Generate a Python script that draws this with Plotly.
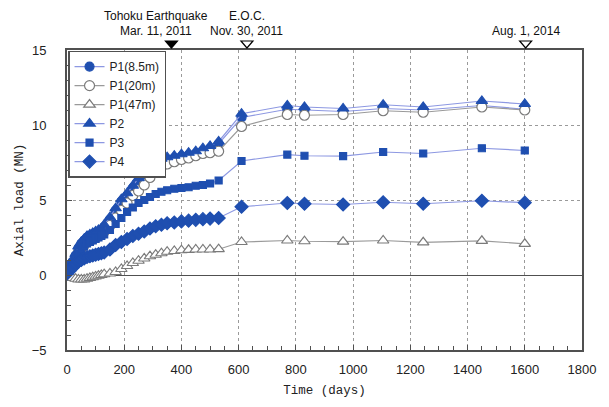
import plotly.graph_objects as go

# Elapsed time (days) of each reading
days = [0, 10, 20, 30, 40, 50, 60, 70, 80, 90, 100, 110, 120, 130, 150, 170, 190, 210,
        230, 250, 270, 290, 310, 330, 350, 375, 400, 425, 450, 475, 500, 530,
        610, 770, 830, 965, 1105, 1245, 1450, 1600]

# Axial load (MN) per pile / depth
p1_85 = [0.3, 0.6, 0.9, 1.3, 1.8, 2.1, 2.3, 2.5, 2.6, 2.7, 2.8, 2.9, 3.0, 3.2, 3.7, 4.3, 4.9, 5.3,
         5.8, 6.3, 6.7, 7.1, 7.4, 7.6, 7.7, 7.8, 7.9, 8.0, 8.1, 8.3, 8.45, 8.75,
         10.5, 11.05, 11.0, 10.9, 11.1, 11.0, 11.3, 11.05]
p1_20 = [0.2, 0.4, 0.7, 1.1, 1.5, 1.8, 2.0, 2.2, 2.3, 2.4, 2.5, 2.6, 2.7, 2.9, 3.3, 3.8, 4.3, 4.8,
         5.3, 5.6, 6.0, 6.5, 6.9, 7.2, 7.4, 7.55, 7.7, 7.8, 7.95, 8.1, 8.15, 8.25,
         9.9, 10.7, 10.65, 10.7, 10.95, 10.85, 11.2, 11.0]
p1_47 = [0.0, -0.1, -0.2, -0.25, -0.3, -0.3, -0.3, -0.25, -0.2, -0.15, -0.1, -0.05, 0.0, 0.05, 0.1, 0.2, 0.4, 0.6,
         0.8, 0.95, 1.1, 1.25, 1.35, 1.45, 1.55, 1.6, 1.65, 1.68, 1.7, 1.7, 1.7, 1.72,
         2.2, 2.3, 2.25, 2.22, 2.3, 2.18, 2.28, 2.08]
p2 = [0.4, 0.7, 1.0, 1.4, 1.9, 2.2, 2.4, 2.6, 2.7, 2.8, 2.9, 3.0, 3.1, 3.35, 3.85, 4.45, 5.05, 5.45,
      5.95, 6.45, 6.85, 7.25, 7.55, 7.75, 7.85, 7.95, 8.05, 8.15, 8.25, 8.45, 8.6, 8.9,
      10.75, 11.3, 11.2, 11.1, 11.35, 11.2, 11.6, 11.4]
p3 = [0.2, 0.5, 0.8, 1.1, 1.4, 1.7, 1.9, 2.1, 2.2, 2.3, 2.4, 2.5, 2.6, 2.7, 3.0, 3.4, 3.8, 4.2,
      4.5, 4.8, 5.0, 5.2, 5.4, 5.55, 5.65, 5.75, 5.8, 5.85, 5.95, 6.0, 6.1, 6.3,
      7.6, 8.03, 7.95, 7.92, 8.2, 8.1, 8.45, 8.3]
p4 = [0.1, 0.3, 0.5, 0.7, 0.9, 1.0, 1.1, 1.2, 1.25, 1.3, 1.35, 1.4, 1.45, 1.5, 1.7, 2.0, 2.2, 2.4,
      2.6, 2.75, 2.9, 3.1, 3.25, 3.35, 3.45, 3.5, 3.57, 3.62, 3.68, 3.72, 3.76, 3.8,
      4.55, 4.8, 4.75, 4.7, 4.85, 4.75, 4.95, 4.82]

# Key dates marked above the frame
event_days = [365, 629, 1603]
event_titles = ["Tohoku Earthquake", "E.O.C.", ""]
event_dates = ["Mar. 11, 2011", "Nov. 30, 2011", "Aug. 1, 2014"]
event_filled = [True, False, False]
event_label_shift = [-15, 0, 0]

BLUE = "#1f4fb0"
BLUE_LINE = "#8d98e2"
GRAY = "#7a7a7a"
GRAY_LINE = "#9a9a9a"
FRAME = "#505050"

H, T, B = 407, 50, 53
PH = H - T - B

fig = go.Figure()


def add_series(name, y, symbol, size, filled):
    fig.add_trace(go.Scatter(
        x=days, y=y, name=name, mode="lines+markers",
        line=dict(color=BLUE_LINE if filled else GRAY_LINE, width=1.2),
        marker=dict(symbol=symbol, size=size,
                    color=BLUE if filled else "white",
                    line=dict(color=BLUE if filled else GRAY, width=1.2)),
    ))


add_series("P1(8.5m)", p1_85, "circle", 9, True)
add_series("P1(20m)", p1_20, "circle", 10, False)
add_series("P1(47m)", p1_47, "triangle-up", 10, False)
add_series("P2", p2, "triangle-up", 10, True)
add_series("P3", p3, "square", 7, True)
add_series("P4", p4, "diamond", 10, True)

label_font = dict(family="Liberation Sans", size=12, color="#111")


def row_y(px_row):
    # convert a pixel row of the page into paper coordinates
    return 1 + (T - px_row) / PH


for d, title, date, filled, dx in zip(event_days, event_titles, event_dates,
                                      event_filled, event_label_shift):
    # downward triangle sitting just above the frame
    fig.add_shape(type="path", xref="x", yref="paper",
                  xsizemode="pixel", ysizemode="pixel", xanchor=d, yanchor=1,
                  path="M -6,9 L 6,9 L 0,2 Z",
                  fillcolor="black" if filled else "white",
                  line=dict(color="black", width=1.2), layer="above")
    fig.add_annotation(x=d, xshift=dx, yref="paper", y=row_y(31), text=date,
                       showarrow=False, xanchor="center", yanchor="middle",
                       font=label_font)
    if title:
        fig.add_annotation(x=d, xshift=dx, yref="paper", y=row_y(16), text=title,
                           showarrow=False, xanchor="center", yanchor="middle",
                           font=label_font)

axis_common = dict(
    showline=True, linecolor=FRAME, linewidth=1.8, mirror=True,
    ticks="inside", ticklen=5, tickcolor=FRAME, tickwidth=1,
    showgrid=True, gridcolor="#9a9a9a", griddash="dot", gridwidth=1,
    tickfont=dict(family="Liberation Sans", size=13, color="#222"),
)

fig.update_xaxes(
    range=[0, 1800], tick0=0, dtick=200,
    minor=dict(dtick=50, ticks="inside", ticklen=4, tickcolor=FRAME, showgrid=False),
    ticklabelstandoff=6,
    title=dict(text="Time (days)", standoff=10,
               font=dict(family="Liberation Mono", size=12.5, color="#222")),
    zeroline=False,
    **axis_common,
)
fig.update_yaxes(
    range=[-5, 15], tick0=-5, dtick=5,
    minor=dict(dtick=1, ticks="inside", ticklen=4, tickcolor=FRAME, showgrid=False),
    ticklabelstandoff=16,
    title=dict(text="Axial load (MN)", standoff=5,
               font=dict(family="Liberation Mono", size=12.5, color="#222")),
    zeroline=True, zerolinecolor=FRAME, zerolinewidth=1.2,
    **axis_common,
)

fig.update_layout(
    width=609, height=H,
    margin=dict(l=66.5, r=26.5, t=T, b=B, pad=0),
    paper_bgcolor="white", plot_bgcolor="white",
    showlegend=True,
    legend=dict(x=0.002, y=0.998, xanchor="left", yanchor="top",
                bgcolor="white", bordercolor=FRAME, borderwidth=1.5,
                font=dict(family="Liberation Sans", size=12, color="#222"),
                tracegroupgap=0, itemwidth=30),
)

fig.write_html("out.html")
